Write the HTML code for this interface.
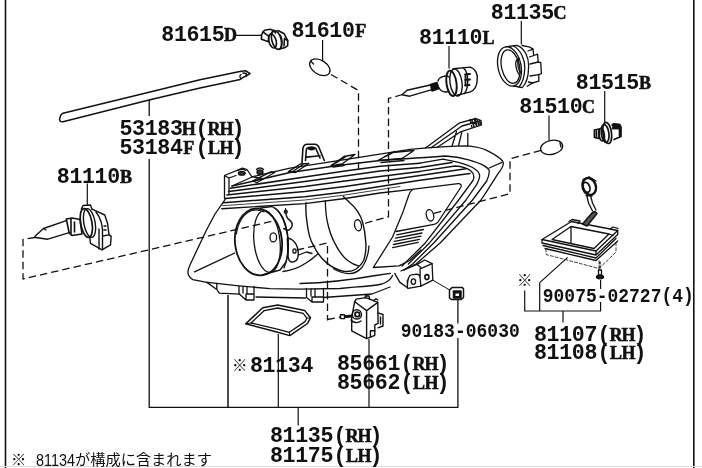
<!DOCTYPE html>
<html><head><meta charset="utf-8"><title>Headlamp parts diagram</title>
<style>
html,body{margin:0;padding:0;background:#fff;}
body{width:702px;height:468px;overflow:hidden;}
svg{display:block;will-change:transform;}
.t{font-family:"Liberation Mono","DejaVu Sans Mono",monospace;font-weight:bold;font-size:21.6px;letter-spacing:-0.36px;fill:#111;}
.s{font-family:"Liberation Mono","DejaVu Sans Mono",monospace;font-weight:bold;font-size:19.300px;fill:#111;}
.u{font-family:"Liberation Serif","DejaVu Serif",serif;font-weight:bold;font-size:18px;letter-spacing:0;stroke:#111;stroke-width:0.55px;}
.j{font-family:"Liberation Sans","Noto Sans CJK JP",sans-serif;font-size:15.300px;fill:#111;}
.l{stroke:#111;stroke-width:1.3;fill:none;stroke-linejoin:round;stroke-linecap:round;}
.k{stroke:#111;stroke-width:1.2;fill:none;}
.d{stroke:#111;stroke-width:1.3;fill:none;stroke-dasharray:7.5 4;}
</style></head><body>
<svg width="702" height="468" viewBox="0 0 702 468">
<rect width="702" height="468" fill="#fff"/>
<g id="frame">
<line x1="5.500" y1="0" x2="5.500" y2="468" stroke="#111" stroke-width="1.600"/>
<line x1="693.800" y1="0" x2="693.800" y2="468" stroke="#111" stroke-width="1.600"/>
<line x1="0" y1="466.5" x2="702" y2="466.5" stroke="#ddd" stroke-width="1"/>
</g>
<g id="labels">
<text class="t" x="161.300" y="41.200"><tspan x="161.300">81615</tspan><tspan class="u" x="224.100">D</tspan></text>
<text class="t" x="291.500" y="37.200"><tspan x="291.500">81610</tspan><tspan class="u" x="355.302">F</tspan></text>
<text class="t" x="419.100" y="44.200"><tspan x="419.100">81110</tspan><tspan class="u" x="482.397">L</tspan></text>
<text class="t" x="490.800" y="19.200"><tspan x="490.800">81135</tspan><tspan class="u" x="553.600">C</tspan></text>
<text class="t" x="575.800" y="88.700"><tspan x="575.800">81515</tspan><tspan class="u" x="639.097">B</tspan></text>
<text class="t" x="519.300" y="112.800"><tspan x="519.300">81510</tspan><tspan class="u" x="582.100">C</tspan></text>
<text class="t" x="119.500" y="135.200"><tspan x="119.500">53183</tspan><tspan class="u" x="181.800">H</tspan><tspan x="195.600">(</tspan><tspan class="u" x="207.500">R</tspan><tspan class="u" x="219.600">H</tspan><tspan x="231.600">)</tspan></text>
<text class="t" x="119.500" y="153.500"><tspan x="119.500">53184</tspan><tspan class="u" x="183.302">F</tspan><tspan x="195.600">(</tspan><tspan class="u" x="207.997">L</tspan><tspan class="u" x="219.600">H</tspan><tspan x="231.600">)</tspan></text>
<text class="t" x="56.800" y="182.500"><tspan x="56.800">81110</tspan><tspan class="u" x="120.097">B</tspan></text>
<text class="t" x="250.000" y="371.500"><tspan x="250.000">81134</tspan></text>
<text class="t" x="337.000" y="370.300"><tspan x="337.000">85661</tspan><tspan x="400.500">(</tspan><tspan class="u" x="412.400">R</tspan><tspan class="u" x="424.500">H</tspan><tspan x="436.500">)</tspan></text>
<text class="t" x="337.000" y="389.000"><tspan x="337.000">85662</tspan><tspan x="400.500">(</tspan><tspan class="u" x="412.897">L</tspan><tspan class="u" x="424.500">H</tspan><tspan x="436.500">)</tspan></text>
<text class="t" x="534.000" y="341.000"><tspan x="534.000">81107</tspan><tspan x="597.500">(</tspan><tspan class="u" x="609.400">R</tspan><tspan class="u" x="621.500">H</tspan><tspan x="633.500">)</tspan></text>
<text class="t" x="534.000" y="359.400"><tspan x="534.000">81108</tspan><tspan x="597.500">(</tspan><tspan class="u" x="609.897">L</tspan><tspan class="u" x="621.500">H</tspan><tspan x="633.500">)</tspan></text>
<text class="t" x="270.000" y="442.200"><tspan x="270.000">81135</tspan><tspan x="333.500">(</tspan><tspan class="u" x="345.400">R</tspan><tspan class="u" x="357.500">H</tspan><tspan x="369.500">)</tspan></text>
<text class="t" x="270.000" y="461.800"><tspan x="270.000">81175</tspan><tspan x="333.500">(</tspan><tspan class="u" x="345.897">L</tspan><tspan class="u" x="357.500">H</tspan><tspan x="369.500">)</tspan></text>
<text class="j" x="232" y="370.500" style="font-size:15.500px">※</text>
<text class="s" x="400.800" y="337.100" textLength="119" lengthAdjust="spacingAndGlyphs">90183-06030</text>
<text class="j" x="517" y="286.300" style="font-size:15.500px">※</text>
<text class="s" x="542.800" y="301.500" textLength="151" lengthAdjust="spacingAndGlyphs">90075-02727(4)</text>
<text class="j" x="11" y="465.300">※</text>
<text class="j" x="36" y="465.600" style="font-size:17.300px" textLength="39" lengthAdjust="spacingAndGlyphs">81134</text>
<text class="j" x="75" y="465.300" textLength="137" lengthAdjust="spacingAndGlyphs">が構成に含まれます</text>
</g>
<g id="leaders" class="k">
<path d="M149.200 100V116M149.200 159V407.400H457.900V338M457.900 323.500V299.500" stroke-width="1.300"/>
<path d="M228 295V407.400" stroke-width="1.500"/>
<path d="M278.300 334V407.400M298.200 407.400V425.500M369 339V407.400"/>
<path d="M524.700 290.500V311H600.600V302M539.700 282.600V311M539.700 282.600L567.700 257.400M563 311V322.500M600.600 280V289"/>
<path d="M87.300 183.500V205M235.500 35.400H261.500M322.600 40V61M449 46V68.500M521.300 21V44.600M604.700 91V122.500M549 115.500V140.500"/>
</g>
<g id="small" class="l">
<!-- strip 53183H -->
<path d="M63 113.200L149 92.300L200 79.800L241 71.200L246 70.800L250 73.600L246 76L242.700 77.700L240.200 79.400L200 87.900L149 100L63 121.800L60.500 121.600L59.500 119.500L60.800 115Z" stroke-width="1.500"/>
<path d="M241 74.500C239.500 75.500 239.500 77.500 241 78.500M243 73L246.500 73.500L246 76" stroke-width="1.300"/>
<!-- socket 81615D -->
<g stroke-width="1.600">
<path d="M261.500 39.200V35.200L263 31.900L264.600 30.300L270.100 29.300L273.600 30.600L275.500 33"/>
<path d="M263 31.900L268.800 36.300L268.500 41.800L261.500 39.200M268.800 36.300L273.600 30.600"/>
<ellipse cx="272.500" cy="41" rx="3.600" ry="7.200" transform="rotate(-15 272.500 41)"/>
<ellipse cx="276.500" cy="40" rx="4.600" ry="9.600" transform="rotate(-15 276.500 40)"/>
<path d="M278 30.500L284.200 33.800L287.700 40.500V45.600L285 47.600L279 49.300"/>
<path d="M284.500 38.600L287.700 40.500M284.500 38.600L284 46M280 35C282.500 38 282.500 44 281 48"/>
</g>
<!-- bulb 81610F -->
<ellipse cx="319.800" cy="67.300" rx="11.200" ry="7" transform="rotate(32 319.800 67.300)" stroke-width="1.300"/>
<path d="M311 61.500L313.500 64"/>
<!-- HID bulb 81110L -->
<g stroke-width="1.400">
<path d="M402 94.800L407.100 90.200L430.200 85M402 94.800L409.700 96.200L431.900 89.700"/>
<path d="M430.500 84.500L437 82.500L439 88.500L432 91Z" fill="#111"/>
<path d="M438 81C439 76.500 446 75 449 77M439 88C441 91.500 445 92.500 449 91.500"/>
<ellipse cx="451.500" cy="83.300" rx="5" ry="12.800" transform="rotate(-8 451.500 83.300)" stroke-width="1.900"/>
<ellipse cx="456" cy="82.500" rx="6" ry="13.700" transform="rotate(-8 456 82.500)"/>
<path d="M453.200 68.800L470.300 67.100C476 69 478 75 477.200 80C477 86 475 90 470.300 91.900L457 95.300"/>
<path d="M463.500 68C469 73 469 87 464.500 93.500"/>
<path d="M465 74.500L470 74M465 80L470 79.500M465 85.500L469.500 85M465.500 74.500V85.500" stroke-width="1.800"/>
</g>
<!-- cap 81135C -->
<g stroke-width="1.300">
<ellipse cx="509.500" cy="66.400" rx="11.500" ry="20" transform="rotate(-12 509.500 66.400)"/>
<ellipse cx="510.500" cy="66.600" rx="9" ry="17" transform="rotate(-12 510.500 66.600)"/>
<path d="M506 46.800L517 45.300C525 48 529 58 528.600 67C528.500 78 526 84 522.200 87.600L514 86"/>
<path d="M513.500 46C521 50 525 60 524.800 68C524.500 77 522.500 83 519 87"/>
<path d="M517 59.400C514.500 63 516 70 519 74.500M519 58C516.500 63 518 70 521.500 73.500"/>
<path d="M522 45.500L530 47.200L533 49.100L533.700 55.500L537.600 54.200L538.200 62L540.800 62.600L541.400 73.500L538.800 74.700V81.200L532.400 83L527.300 86.300"/>
<path d="M528 51L533 49.100M529.500 57L533.700 55.500M530 64L538.200 62M530 76L538.800 74.700M528.500 82L532.400 83"/>
</g>
<!-- socket 81515B -->
<g stroke-width="1.700">
<path d="M594.400 130L599.100 129V138.500L594.400 137.500ZM596.500 131V137"/>
<ellipse cx="601.700" cy="134.600" rx="2.600" ry="6.400" transform="rotate(-8 601.700 134.600)"/>
<ellipse cx="605.100" cy="133.400" rx="3.800" ry="9" transform="rotate(-8 605.100 133.400)"/>
<ellipse cx="607.200" cy="132.900" rx="4.300" ry="10.700" transform="rotate(-8 607.200 132.900)"/>
<path d="M612 125L614 123.800L619.500 124.500L621 127V136.500L614 139.500M612.400 128.500H619.500V137" />
<path d="M613 124.500H619.500V128.500H613Z" fill="#111"/>
</g>
<!-- bulb 81510C -->
<ellipse cx="551.600" cy="147.400" rx="11.200" ry="7" transform="rotate(-12 551.600 147.400)" stroke-width="1.300"/>
<path d="M560 143L561 147"/>
<!-- bulb 81110B -->
<g stroke-width="1.400">
<path d="M35 236.300L43.500 228.500L66.300 220.600M35.500 237.500L47.800 239.200L69.200 232.700M43.500 228.500L46 230"/>
<path d="M66.300 219L72 218L80 219.500L82 234L72 235.500L69.200 233ZM71 219V235M74.500 222V232" stroke-width="1.600"/>
<ellipse cx="86.300" cy="223" rx="5.700" ry="14.600" transform="rotate(-10 86.300 223)" stroke-width="1.700"/>
<ellipse cx="89.500" cy="223" rx="5.700" ry="14.600" transform="rotate(-10 89.500 223)"/>
<path d="M81.300 209L83 205.500L90.500 205L92 209.200"/>
<path d="M92 209.200L104.800 215L107.600 223.500L109 234.900L111.200 236.300L110.500 244.900L102 249.800L90.500 243.400L89.800 237.700"/>
<path d="M99 229V249M102.500 236V249.800M96 212C101 218 103 228 102.500 236L109 234.900M104 226H106M104 230H106"/>
</g>
</g>
<g id="lamp" class="l">
<!-- outer outline: left edge + bottom -->
<path d="M225.200 199.300L215 214L206.500 230L190.300 264.200C188.500 268 187 272 188.500 275C189.500 277.500 191 278.800 192.800 279.600L205.600 282.100L236.400 285.600L270 288.700L300 289.200L340 288.500L354 287.200C366 286.500 376 285.500 382 284C388 282 391 279 392.600 275.500"/>
<!-- top edge and right tip -->
<path d="M251.500 177L290 168.200L340 160.400L410 149.400C430 147.500 450 146 467.400 145.800C476 146.500 482 148 486.700 150.300C493 153.500 497 156 499.500 158C502 160 503.500 162 503.300 163.700C503 167 501 170 498.200 173.300L486.700 191.300L481 200L440.400 242.700L416 264L401 271"/>
<!-- second edge -->
<path d="M425.500 157.500L445.600 156C455 156.500 462 158 468.700 159.900C476 162 481 164 484 165.600C487 167.500 489 169 489.200 170.800C489.500 174 488 178 486.700 181L472.500 200L434 242.700L412.600 264L404 270"/>
<path d="M489.200 168L502 162.400"/>
<!-- third edge -->
<path d="M420 163.200L443 159.200L458.500 162.400C466 164.500 471 166.500 473.800 168.200C478 171 480 173 479.600 175.900C479.500 179 478 182 476.400 184.900L466 200L429.700 242.700L408.400 264"/>
<!-- fourth edge -->
<path d="M420 171.400L455 166C462 166.500 468 168.500 471 171C474.500 174 474.500 177 473 180.500L458.600 200L425.500 242.700L402 266"/>
<!-- bracket box left -->
<path d="M224.500 198.500V175.500L242.500 168.200L247 169.500L252 177L232 186M229 178V194M224.500 175.500L229 178L236 175.500"/>
<ellipse cx="241.800" cy="173.300" rx="3.400" ry="1.900" fill="#333"/>
<path d="M238 170.500C240 169 244 169 246 170.500" />
<ellipse cx="260" cy="172.300" rx="3" ry="2.400" fill="#333"/>
<path d="M256.500 169.500C258 167.500 262 167.500 263.500 169.500"/>
<path d="M252.500 181L271.300 171.600L274.700 172.500L256.800 182.700ZM254 177L262 178.500"/>
<!-- top tab -->
<g stroke-width="1.600">
<path d="M302 163L302.900 148.500C303.500 145.500 305 144.300 307.200 144.300H314.900C317 144.500 318.300 145.500 319.100 147.700L324.300 160.500"/>
<path d="M305.500 160.500L306.300 150.300C306.500 148.500 307 147.700 308 147.700H314.900C315.800 147.900 316.300 148.800 316.600 150.300L320 158"/>
<path d="M306.300 157.100L320 155.800"/>
<ellipse cx="311.500" cy="148.300" rx="3" ry="1.300" fill="#111"/>
</g>
<!-- clips on top -->
<g stroke-width="1.400">
<path d="M288.400 171.600L300.400 164L308.900 163.500L295.200 172.500ZM292 172L303 164.500"/>
<path d="M331 165.600L344 156.500L355 154.500L342 164ZM336 163L346 156.500M333 167L344 165.500"/>
<path d="M378 160.500L392 152.500L414 150.500L402 158.500ZM384 157L395 151.500M381 162.500L404 160.500"/>
</g>
<!-- arm bracket -->
<g stroke-width="1.300">
<path d="M425.500 148L459.700 122.800L476 118.500L481 120.500L481.500 125L462 131.400L458.600 145.500"/>
<path d="M431 147.800L462 126L478 121.500M437 147.500L461 131.500M452 146.200L456.500 131.500M467.800 133.500V145.800M470 119.500L472 127.500M475 118.500L477 126"/>
<path d="M472 120.500L474 126.500M474.500 119.800L476.500 125.800M477 119.500L479 125M479.500 120.500L480.500 124" stroke-width="1.600"/>
</g>
<!-- striations -->
<g stroke-width="1.500">
<path d="M232 186L290 172.500L340 165.300L380 160.500L420 157.800L425.500 157.500"/>
<path d="M230.300 188.200L304.700 177L345 171L380 166.300L420 163.200"/>
<path d="M228.600 191.600L304.700 181.400L345 176L380 171.100L420 167.400L452 162.600"/>
<path d="M226.900 195L304.700 186.500L345 181L380 176.500L420 171.400"/>
<path d="M225.200 198.500L304.700 191.600L345 186.500L380 181.300L420 175.600L466 168.800"/>
<path d="M223.500 202.700L304.700 196.800L345 192L380 186.600L420 180.300L470 173.500"/>
<path d="M221.800 208.700L304.700 203.600L345 198.500L380 193L409.700 189.600" stroke-width="1.400"/>
<path d="M222.500 205.700L304.700 200L345 195L400 186.500" stroke-width="0.800"/>
</g>
<!-- window right -->
<path d="M409.700 189.600L458 183.700C460.500 183.500 462 185 461 187L438 222C437 223.500 436 224 434 224.300L396 231.500"/>
<path d="M413 189.500C410.500 190.500 409.500 193 408.500 196L403.200 211.400L392.600 237L373.300 267.500L399 265.900L409.600 260.500L421 250"/>
<ellipse cx="430" cy="215.300" rx="3.600" ry="5.800" transform="rotate(-15 430 215.300)"/>
<ellipse cx="358" cy="225.300" rx="3.400" ry="5.600" transform="rotate(-10 358 225.300)"/>
<!-- grille stripes lower right -->
<path d="M396.800 234.900L423.500 229.500M395.500 238.100L422 233M394.500 241.300L421 236.200M393.500 244.500L419.500 239.400M392.600 247.700L418.200 242.400"/>
<!-- left lamp -->
<ellipse cx="258.500" cy="242" rx="23.500" ry="33.500" transform="rotate(-6 258.500 242)" stroke-width="1.800"/>
<path d="M236.500 234C238 222 244 213 252 210.500C256 209.500 260 210 264 212" stroke-width="1.100"/>
<ellipse cx="267" cy="241.500" rx="13" ry="31" transform="rotate(-6 267 241.500)"/>
<path d="M250 209.500L272 206.500C284 212 292 238 286 262L280 270L262 275"/>
<path d="M275 208C287 216 293 246 284 268"/>
<ellipse cx="273.300" cy="237.400" rx="3.300" ry="4.500"/>
<path d="M285.500 208.800L286.400 216C287.500 219 289.500 220 290.900 221.400C292.500 223 292.500 225 291.800 226.700C290.500 229.500 289 230.300 287.300 230.300L283.700 228.500" stroke-width="1.400"/><circle cx="285.800" cy="211.800" r="1.500"/>
<path d="M287.300 238.400C289 238 291 239 292.700 240.200C296 243 297.500 246.500 298 250.100C298.500 254 298.300 257 297.200 259.100C296 261.500 293 262.500 290.900 261.800C289.500 261 288.500 259.500 288.200 257.300Z" stroke-width="1.400"/>
<ellipse cx="294.500" cy="251" rx="1.600" ry="2.200"/>
<!-- right lamp -->
<path d="M306 202.800C305.500 210 306 216 307 222C308 232 310 240 313.500 245.500C317 253 321 258 326.300 262.600C332 267.500 338 270 343.400 271.200C348 272 353 271 356.200 269C360 266 362 264 363.700 260.500C365.500 255 366.200 250 365.900 243.400C365.500 236 364.500 229 362.600 222C360 214 355 207 349.800 202.800L343.400 196.400" stroke-width="1.400"/>
<path d="M325.300 200.700C325.500 208 326 216 327.400 222C329 230 331.500 237 334.900 243.400C338 250 342 256 347.700 260.500C351 263 354.500 265 358.400 265.900"/>
<path d="M283 271.500C292 270.500 300 267 306 263C311 260 315 256.500 318 253.700M298.500 255L306.500 252L312 253.500"/>
<path d="M369 245.800C368.500 254 366.500 261 362.300 267C358.500 271.500 353.500 273.800 348.800 273.700C343 273.500 338 271.500 333.500 268.800"/>
<!-- lens inner bezel lines -->
<path d="M194.500 271.900L234.700 253"/>
<path d="M300 283.500C320 283 345 281 375.500 275.500L390.400 273.300"/>
<!-- bottom rail and tabs -->
<path d="M206.500 282.100L216.800 289.500V283.500M216.800 289.500L219.300 293.200L239.800 294.100M256 297L305.400 298M323.500 297.500L372 294L390 287"/>
<path d="M239 286.300V293.800L246 300H254V286.300M243 287V293M247 287V293M246 300V294H254"/>
<path d="M306.500 288.500V297.500L312 302H323.500V288.500M311 289V296M315 289V296M312 302V297H323.500"/>
</g>
<g id="lower" class="l">
<!-- lower-right bracket -->
<g stroke-width="1.300">
<path d="M394.700 273.400L399.900 282.400L408.200 288.300L420.900 286.100L432.800 280.100L432.100 263.700L424.600 260L417.100 264.400L420.900 267.400"/>
<path d="M407.400 280.100V288C407.400 277 410 275 411.200 274.900L417.100 274.100C419 274.500 420.100 276 420.100 278L420.900 286.100M420.100 278V268.900L432.100 263.700M417.100 264.400L404 270"/>
<ellipse cx="413.400" cy="281.600" rx="2.200" ry="2.800"/>
<ellipse cx="426.900" cy="277.100" rx="2" ry="2.500" stroke-width="1.600"/>
<path d="M432.800 280.100L449.300 289.800" stroke-width="1"/>
</g>
<!-- clip 90183 -->
<g stroke-width="1.500">
<path d="M449.500 290L452 287.600H462.500L463.500 289V297.500L461 299.600H451.500L449.500 298Z"/>
<path d="M453.500 291H461V298H453.500Z" fill="#111"/>
<path d="M455.500 293.500H459V296H455.500Z" fill="#fff" stroke="none"/>
</g>
<!-- gasket 81134 -->
<path stroke-width="1.500" d="M245.700 323.700L262.800 307.800L277.700 304.900L304.800 310.600L310.500 317.700L307.500 323.500L289.800 335.600L277.700 332.300Z"/>
<path stroke-width="1.300" d="M251 323L264.300 310.600L277.700 308L303.200 313.400L306.800 318.200L305 321.600L289.300 332.300L278.300 329.300Z"/>
<path stroke-width="1" d="M245.700 323.700L251 323M310.500 317.700L306.800 318.200M289.800 335.600L289.300 332.300"/>
<!-- actuator 85661 -->
<g stroke-width="1.400">
<path d="M354.700 301.700L356.200 299.100L365.900 297.600L377.800 302.400L378.100 323.300L374.800 324.800V335.300L366.600 338.600L351.700 330.800V317.400Z"/>
<path d="M354.700 301.700L366.600 310.600L377.800 302.400M366.600 310.600V338.600"/>
<circle cx="356.900" cy="314.400" r="4.600"/>
<circle cx="357.300" cy="314.400" r="2.300" stroke-width="1.800"/>
<path d="M351 320C353 323 358 323.500 361 321"/>
<path d="M377.800 312.900L383 314.500V326L378 327.800M380.500 317V324"/>
<path d="M365 297.700L365.500 295.800L369 296L369.600 299"/>
<path d="M370.400 330.800H374.800M370.400 330.800V336.500M373.300 300.500L376 298.800L377.800 300"/>
<path d="M340.500 314.800H344.500V318.600H340.500ZM344.500 316L352 315.200M344.500 317.500L352 316.800"/>
</g>
</g>
<g id="ecu" class="l" stroke-width="1.350">
<path d="M542 239.500L571.500 221.500L617.700 230.500L596 251Z"/>
<path d="M542 239.500V243L596 255V251M596 255L617.700 234.500V230.500"/>
<path d="M543 245.500L596 258L616 238.500M545 248.500L596 260.500L617.700 241"/>
<path d="M571 226.500L609 234L594 248.500L552 239.500ZM571 226.500V243.500"/>
<path d="M569 221.500L572 219.500L580 221L578 223.500M610 229L613 227L618 228.500M609 234L613 235.500"/>
<path d="M546 249V254.500L599 268.500V260M599 268.500L616 252V241" stroke-dasharray="3 2" stroke-width="0.800"/>
<!-- connector -->
<ellipse cx="589.200" cy="186.500" rx="6.600" ry="8.600" transform="rotate(-20 589.200 186.500)" stroke-width="2.400"/>
<ellipse cx="586.500" cy="187.300" rx="3.200" ry="5.200" transform="rotate(-20 586.500 187.300)" stroke-width="1.800"/>
<path d="M583 179.500L589 176.800L596 181M586 195.500L592 196"/>
<path d="M586.800 195.500L588.500 203L592.500 211M590.500 195.500L592.500 203L596 210"/>
<path d="M592 213L595 211.500L597 213.500L587 226L582.500 224Z" stroke-width="1.500" fill="#555"/>
<!-- screw -->
<path d="M600 262V270" stroke-dasharray="2 2"/>
<path d="M598.500 270H601.500V275H598.500Z"/><ellipse cx="600" cy="277" rx="3.500" ry="1.800" fill="#111"/>
</g>
<g id="dash" class="d">
<path d="M35 237.500L23 239.500V279L275 220.600"/>
<path d="M331 74.500L358.500 90.500V172"/>
<path d="M402.500 94.500L388.500 98.500V216.700L369 222L361.500 224.500"/>
<path d="M541 150.300L510 158.800V193.700L434 213.300"/>
<path d="M296.800 250L327.500 243V320.500M327.500 319.500L340.500 317"/>
</g>
</svg>
</body></html>
